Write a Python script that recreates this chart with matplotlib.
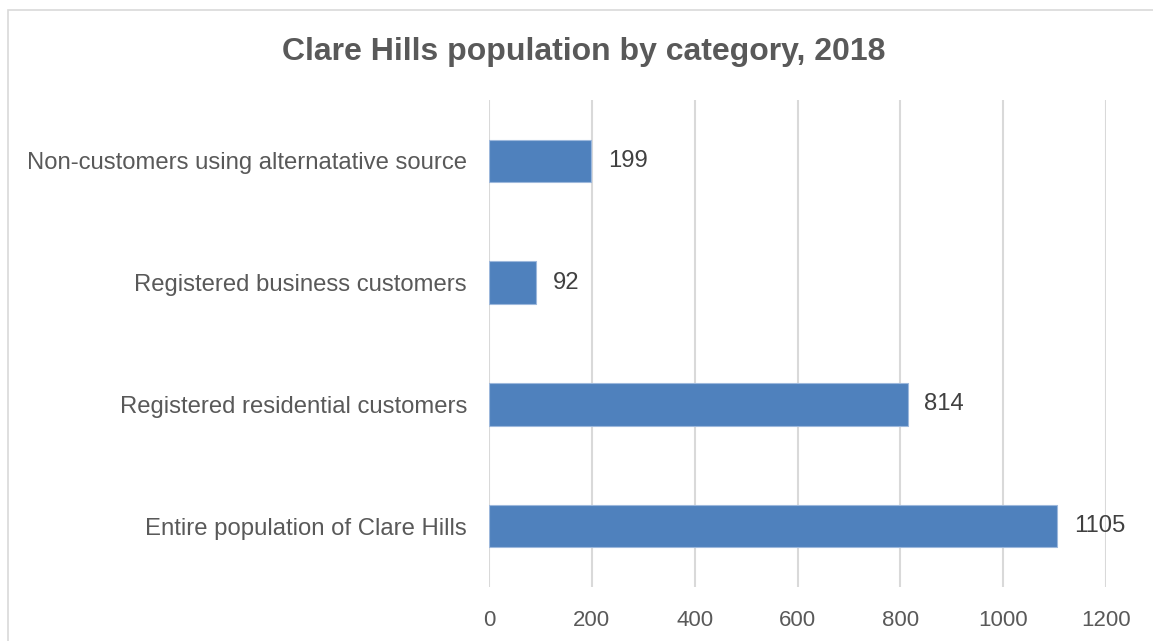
import matplotlib
matplotlib.use("Agg")
import matplotlib.pyplot as plt
from matplotlib.patches import Rectangle

categories = ["Entire population of Clare Hills",
              "Registered residential customers",
              "Registered business customers",
              "Non-customers using alternatative source"]
values = [1105, 814, 92, 199]
xticks = [0, 200, 400, 600, 800, 1000, 1200]
title = "Clare Hills population by category, 2018"

plt.rcParams['font.family'] = ['Liberation Sans', 'DejaVu Sans']

W, H = 1153, 641
fig = plt.figure(figsize=(W / 100, H / 100), dpi=100)
fig.patch.set_facecolor("white")

# outer chart border
fig.add_artist(Rectangle((8 / W, -0.05), 1.1, 1 - 10 / H + 0.05,
                         transform=fig.transFigure, fill=False,
                         edgecolor="#D9D9D9", linewidth=1.2))

ax = fig.add_axes([489 / W, (H - 587) / H, 617 / W, 487 / H])
ypos = list(range(len(categories)))
ax.barh(ypos, values, height=0.35, color="#4F81BD", edgecolor="#9DB8DC",
        linewidth=0.8, zorder=3)
ax.set_xlim(0, 1200)
ax.set_ylim(-0.5, len(categories) - 0.5)
ax.set_xticks(xticks)
ax.set_xticklabels([str(t) for t in xticks])
ax.set_yticks(ypos)
ax.set_yticklabels(categories)
ax.tick_params(axis="both", length=0, labelcolor="#595959")
ax.tick_params(axis="y", pad=15.8, labelsize=17.2)
ax.tick_params(axis="x", pad=16.5, labelsize=16)
for s in ax.spines.values():
    s.set_visible(False)
ax.grid(axis="x", color="#D9D9D9", linewidth=1.5, zorder=0)
ax.set_axisbelow(True)

for y, v in zip(ypos, values):
    ax.annotate(str(v), (v, y), xytext=(12, 0), textcoords="offset points",
                va="center", ha="left", fontsize=17.2, color="#404040")

fig.text(584 / W, 1 - 52 / H, title, ha="center", va="center",
         fontsize=23, fontweight="bold", color="#595959")

fig.savefig("out.png", dpi=100)
